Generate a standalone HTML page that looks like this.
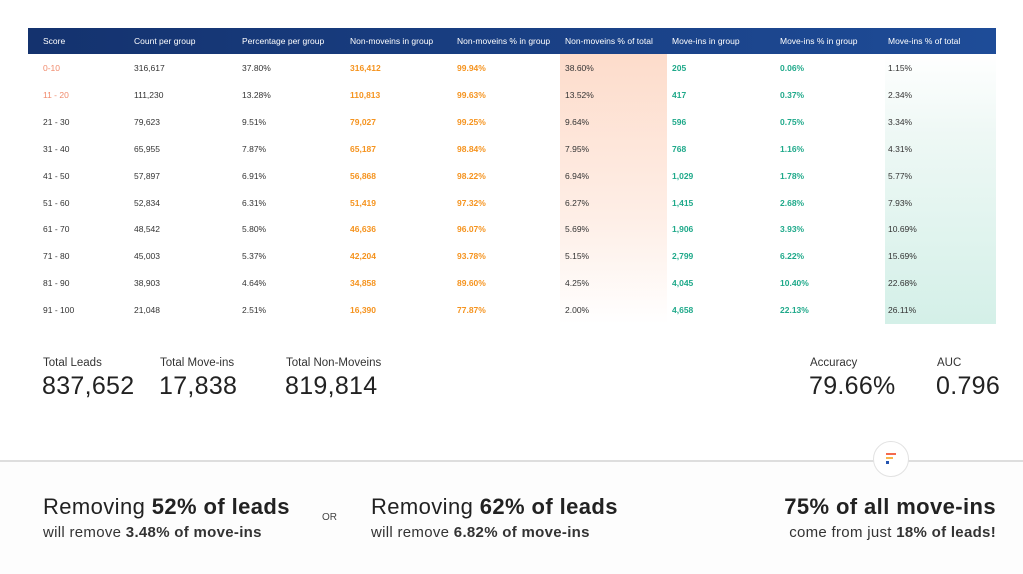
<!DOCTYPE html>
<html><head><meta charset="utf-8"><style>
body{margin:0;width:1023px;height:572px;background:#fff;font-family:"Liberation Sans",sans-serif;position:relative;overflow:hidden;color:#222}
.a{position:absolute;white-space:nowrap}
#hdr{position:absolute;left:28px;top:28px;width:968px;height:26px;background:linear-gradient(90deg,#14326e,#1e4c98)}
.h{color:#fff;font-size:8.5px;top:9px}
.c{font-size:8.5px}
.big{font-size:25px;color:#222;letter-spacing:0.3px}
.lbl{font-size:11.5px;color:#333}
.t1{font-size:22px;color:#222;letter-spacing:0.4px}
.t2{font-size:15px;color:#333;letter-spacing:0.3px}
</style></head><body>
<div id="hdr"></div>
<div class="a" style="left:560px;top:54px;width:107px;height:270px;background:linear-gradient(180deg,#fddccb,#feeee6 60%,#fff)"></div>
<div class="a" style="left:885px;top:54px;width:111px;height:270px;background:linear-gradient(180deg,#fff,#eef8f5 30%,#d4f0e8)"></div>
<div id="tbl"></div>
<div class="a lbl" style="left:43px;top:357px">Total Leads</div>
<div class="a big" style="left:42px;top:372px">837,652</div>
<div class="a lbl" style="left:160px;top:357px">Total Move-ins</div>
<div class="a big" style="left:159px;top:372px">17,838</div>
<div class="a lbl" style="left:286px;top:357px">Total Non-Moveins</div>
<div class="a big" style="left:285px;top:372px">819,814</div>
<div class="a lbl" style="left:810px;top:357px">Accuracy</div>
<div class="a big" style="left:809px;top:372px">79.66%</div>
<div class="a lbl" style="left:937px;top:357px">AUC</div>
<div class="a big" style="left:936px;top:372px">0.796</div>
<div class="a" style="left:0;top:460px;width:1023px;height:112px;background:#fdfdfd;border-top:2px solid #dedede"></div>
<div class="a" style="left:873px;top:441px;width:34px;height:34px;border-radius:50%;background:#fff;border:1.5px solid #e2e2e2">
<div style="position:absolute;left:12px;top:11px;width:10px;height:2px;background:#f46a4e"></div>
<div style="position:absolute;left:12px;top:15px;width:7px;height:2px;background:#f8b44a"></div>
<div style="position:absolute;left:12px;top:19px;width:3px;height:3px;background:#2454b0"></div></div>
<div class="a t1" style="left:43px;top:494px">Removing <b>52% of leads</b></div>
<div class="a t2" style="left:43px;top:524px">will remove <b>3.48% of move-ins</b></div>
<div class="a" style="left:322px;top:512px;font-size:10px;color:#444">OR</div>
<div class="a t1" style="left:371px;top:494px">Removing <b>62% of leads</b></div>
<div class="a t2" style="left:371px;top:524px">will remove <b>6.82% of move-ins</b></div>
<div class="a t1" style="right:27px;top:494px"><b>75% of all move-ins</b></div>
<div class="a t2" style="right:27px;top:524px">come from just <b>18% of leads!</b></div>
<script>
const headers=["Score","Count per group","Percentage per group","Non-moveins in group","Non-moveins % in group","Non-moveins % of total","Move-ins in group","Move-ins % in group","Move-ins % of total"];
const scores=["0-10","11 - 20","21 - 30","31 - 40","41 - 50","51 - 60","61 - 70","71 - 80","81 - 90","91 - 100"];
const counts=["316,617","111,230","79,623","65,955","57,897","52,834","48,542","45,003","38,903","21,048"];
const pctGroup=["37.80%","13.28%","9.51%","7.87%","6.91%","6.31%","5.80%","5.37%","4.64%","2.51%"];
const nonIn=["316,412","110,813","79,027","65,187","56,868","51,419","46,636","42,204","34,858","16,390"];
const nonPctIn=["99.94%","99.63%","99.25%","98.84%","98.22%","97.32%","96.07%","93.78%","89.60%","77.87%"];
const nonPctTot=["38.60%","13.52%","9.64%","7.95%","6.94%","6.27%","5.69%","5.15%","4.25%","2.00%"];
const movIn=["205","417","596","768","1,029","1,415","1,906","2,799","4,045","4,658"];
const movPctIn=["0.06%","0.37%","0.75%","1.16%","1.78%","2.68%","3.93%","6.22%","10.40%","22.13%"];
const movPctTot=["1.15%","2.34%","3.34%","4.31%","5.77%","7.93%","10.69%","15.69%","22.68%","26.11%"];
const cols=[scores,counts,pctGroup,nonIn,nonPctIn,nonPctTot,movIn,movPctIn,movPctTot];
const colNames=["score","count","pct-group","nonmoveins","nonmoveins-pct-group","nonmoveins-pct-total","moveins","moveins-pct-group","moveins-pct-total"];
const xs=[43,134,242,350,457,565,672,780,888];
const t=document.getElementById('tbl');
headers.forEach((h,i)=>{const d=document.createElement('div');d.className='a h';


d.style.left=xs[i]+'px';d.style.top='36px';d.textContent=h;t.appendChild(d);});
for(let r=0;r<scores.length;r++){cols.forEach((col,i)=>{const d=document.createElement('div');d.className='a c';


d.style.left=xs[i]+'px';d.style.top=(63+r*26.9)+'px';d.textContent=col[r];
let c='#333';if(i==0&&r<2)c='#f08a6c';if(i==3||i==4){c='#f5931e';d.style.fontWeight='bold';}
if(i==6||i==7){c='#1fa98a';d.style.fontWeight='bold';}d.style.color=c;t.appendChild(d);});}
</script>
</body></html>
